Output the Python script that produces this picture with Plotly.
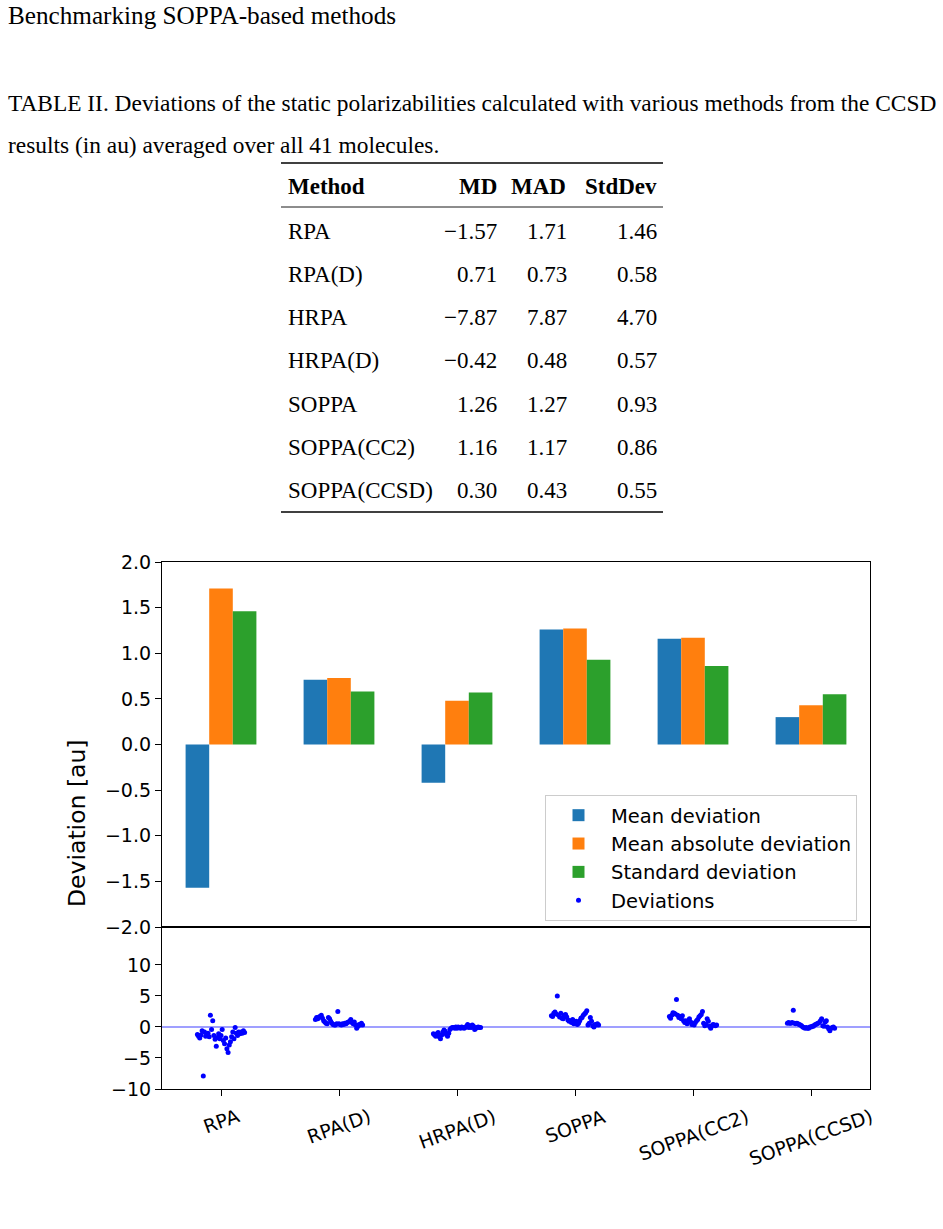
import numpy as np
import plotly.graph_objects as go

W, H = 943, 1229

# ---------------- data ----------------
table_methods = ["RPA", "RPA(D)", "HRPA", "HRPA(D)", "SOPPA", "SOPPA(CC2)", "SOPPA(CCSD)"]
table_md = [-1.57, 0.71, -7.87, -0.42, 1.26, 1.16, 0.30]
table_mad = [1.71, 0.73, 7.87, 0.48, 1.27, 1.17, 0.43]
table_std = [1.46, 0.58, 4.70, 0.57, 0.93, 0.86, 0.55]

chart_methods = ["RPA", "RPA(D)", "HRPA(D)", "SOPPA", "SOPPA(CC2)", "SOPPA(CCSD)"]

dev_rpa = [-1.2, -1.5, -1.8, -1.3, -0.6, -7.9, -0.8, -1.5, -1.2, -1.0,
           -1.6, 1.9, -0.4, 1.0, -1.4, -2.0, -3.1, -1.7, -1.1, -1.9,
           -1.4, -0.4, -2.2, -2.7, -1.8, -3.5, -4.1, -2.9, -2.4, -1.6,
           -0.8, -1.9, -0.1, -1.0, -1.4, -0.8, -1.1, -0.8, -1.0, -0.6, -0.9]
dev_rpad = [1.2, 1.5, 1.3, 1.6, 1.7, 1.9, 1.4, 1.0, 0.8, 0.6,
            0.5, 1.5, 1.3, 0.9, 0.6, 0.4, 0.3, 0.3, 0.5, 2.5,
            0.5, 0.4, 0.3, 0.5, 0.4, 0.6, 0.5, 0.7, 0.8, 0.9,
            1.2, 0.7, 0.5, 0.8, 0.3, -0.2, 0.1, 0.4, 0.3, 0.6, 0.3]
dev_hrpad = [-1.1, -1.3, -1.5, -1.1, -0.9, -1.6, -1.9, -1.3, -0.8, -0.5,
             -0.7, -1.2, -1.5, -1.0, -0.4, -0.2, -0.1, -0.1, -0.2, 0.0,
             -0.2, 0.0, -0.1, -0.2, 0.0, -0.1, -0.2, -0.1, 0.1, 0.4,
             -0.1, 0.2, -0.1, 0.3, 0.1, -0.4, -0.2, -0.1, 0.0, -0.1, -0.1]
dev_soppa = [1.8, 1.7, 2.2, 2.4, 2.1, 5.0, 1.9, 1.6, 2.2, 1.4,
             1.3, 1.9, 2.0, 1.6, 1.1, 0.9, 1.0, 0.7, 1.2, 0.5,
             0.8, 0.9, 0.4, 0.6, 1.0, 1.4, 1.5, 1.9, 2.1, 2.3,
             2.6, 0.3, 0.6, 1.5, 0.9, 0.2, 0.0, 0.4, 0.3, 0.5, 0.3]
dev_soppa_cc2 = [1.7, 1.4, 1.9, 2.3, 2.2, 2.1, 4.4, 1.9, 1.5, 1.7,
                 1.3, 1.8, 1.0, 0.7, 1.0, 0.5, 0.9, 1.3, 0.8, 0.4,
                 0.6, 0.3, 0.7, 1.0, 1.2, 1.6, 1.8, 2.0, 2.5, 0.6,
                 0.2, 0.4, 1.3, 0.9, 0.1, -0.2, 0.2, 0.4, 0.3, 0.2, 0.3]
dev_soppa_ccsd = [0.6, 0.7, 0.6, 0.6, 0.7, 2.7, 0.6, 0.5, 0.6, 0.5,
                  0.4, 0.3, 0.2, 0.0, -0.1, -0.2, -0.1, -0.2, -0.2, 0.0,
                  0.0, 0.1, 0.1, 0.3, 0.4, 0.5, 0.6, 0.7, 1.0, 1.3,
                  0.2, 0.1, 0.8, 1.0, 0.0, -0.3, -0.6, -0.2, -0.1, 0.0, -0.2]
deviations = [dev_rpa, dev_rpad, dev_hrpad, dev_soppa, dev_soppa_cc2, dev_soppa_ccsd]

top_ticks = [-2.0, -1.5, -1.0, -0.5, 0.0, 0.5, 1.0, 1.5, 2.0]
bottom_ticks = [-10, -5, 0, 5, 10]

# ---------------- helpers ----------------
def fx(px):
    return px / W

def fy(py):
    return 1 - py / H

def fmt(v):
    return f"{v:.2f}".replace("-", "\u2212")

SERIF = "Liberation Serif"
SANS = "DejaVu Sans"

idx = [table_methods.index(m) for m in chart_methods]
xpos = list(range(len(chart_methods)))
md_c = [table_md[i] for i in idx]
mad_c = [table_mad[i] for i in idx]
std_c = [table_std[i] for i in idx]

fig = go.Figure()
for name, vals, col in [("Mean deviation", md_c, "#1f77b4"),
                        ("Mean absolute deviation", mad_c, "#ff7f0e"),
                        ("Standard deviation", std_c, "#2ca02c")]:
    fig.add_trace(go.Bar(x=xpos, y=vals, name=name, marker_color=col,
                         marker_line_width=0, xaxis="x", yaxis="y"))

offs = np.linspace(-0.2, 0.2, len(dev_rpa))
sx, sy = [], []
for j, d in enumerate(deviations):
    sx += list(j + offs)
    sy += d
fig.add_trace(go.Scatter(x=sx, y=sy, mode="markers", name="Deviations",
                         marker=dict(color="#0000ff", size=5),
                         xaxis="x2", yaxis="y2"))

line_common = dict(showline=True, mirror=True, linecolor="black", linewidth=1.2,
                   showgrid=False, zeroline=False, automargin=False,
                   tickcolor="black", ticklen=6, tickwidth=1.2)
tickfont = dict(family=SANS, size=19, color="black")
xdom = [fx(162), fx(870)]
fig.update_layout(
    width=W, height=H, autosize=False,
    margin=dict(l=0, r=0, t=0, b=0, autoexpand=False),
    paper_bgcolor="white", plot_bgcolor="rgba(0,0,0,0)",
    barmode="group", bargap=0.4, bargroupgap=0,
    font=dict(family=SANS, color="black"),
    xaxis=dict(domain=xdom, anchor="y", range=[-0.5, 5.5], showticklabels=False,
               ticks="", **line_common),
    yaxis=dict(domain=[fy(927), fy(562)], anchor="x", range=[-2, 2],
               tickvals=top_ticks, tickformat=".1f", ticks="outside",
               tickfont=tickfont, **line_common),
    xaxis2=dict(domain=xdom, anchor="y2", range=[-0.5, 5.5], matches="x",
                tickvals=xpos, showticklabels=False, ticks="outside", **line_common),
    yaxis2=dict(domain=[fy(1089), fy(927)], anchor="x2", range=[-10, 16.1],
                tickvals=bottom_ticks, ticks="outside", tickfont=tickfont, **line_common),
    legend=dict(x=fx(545), y=fy(795), xanchor="left", yanchor="top",
                bgcolor="rgba(255,255,255,0.8)", bordercolor="#cccccc", borderwidth=1,
                font=dict(family=SANS, size=19.5, color="black"),
                itemwidth=55, tracegroupgap=0),
    showlegend=True,
)

# zero line in bottom panel
fig.add_shape(type="line", xref="x2 domain", yref="y2", x0=0, x1=1, y0=0, y1=0,
              line=dict(color="rgba(0,0,255,0.5)", width=1.6), layer="below")

ann = []
# x tick labels (rotated, centred like matplotlib)
for i, m in enumerate(chart_methods):
    ann.append(dict(x=i, xref="x2", y=fy(1102), yref="paper", text=m, showarrow=False,
                    textangle=-20, xanchor="center", yanchor="top",
                    font=dict(family=SANS, size=19, color="black")))
# figure y label
ann.append(dict(x=fx(77), y=fy(823), xref="paper", yref="paper", text="Deviation [au]",
                showarrow=False, textangle=-90, xanchor="center", yanchor="middle",
                font=dict(family=SANS, size=23.5, color="black")))

# page text
ann.append(dict(x=fx(6), y=fy(16), xref="paper", yref="paper",
                text="Benchmarking SOPPA-based methods", showarrow=False,
                xanchor="left", yanchor="middle", font=dict(family=SERIF, size=25.2, color="black")))
ann.append(dict(x=fx(6), y=fy(103), xref="paper", yref="paper",
                text="TABLE II. Deviations of the static polarizabilities calculated with various methods from the CCSD",
                showarrow=False, xanchor="left", yanchor="middle",
                font=dict(family=SERIF, size=23.4, color="black")))
ann.append(dict(x=fx(6), y=fy(145), xref="paper", yref="paper",
                text="results (in au) averaged over all 41 molecules.",
                showarrow=False, xanchor="left", yanchor="middle",
                font=dict(family=SERIF, size=23.4, color="black")))

# table
tfont = dict(family=SERIF, size=23, color="black")
ann.append(dict(x=fx(286), y=fy(187), xref="paper", yref="paper", text="<b>Method</b>",
                showarrow=False, xanchor="left", yanchor="middle", font=tfont))
for txt, xr in [("MD", 499), ("MAD", 568), ("StdDev", 659)]:
    ann.append(dict(x=fx(xr), y=fy(187), xref="paper", yref="paper", text=f"<b>{txt}</b>",
                    showarrow=False, xanchor="right", yanchor="middle", font=tfont))
row_y0, row_dy = 231, 43.3
for r, m in enumerate(table_methods):
    yy = fy(row_y0 + r * row_dy)
    ann.append(dict(x=fx(286), y=yy, xref="paper", yref="paper", text=m,
                    showarrow=False, xanchor="left", yanchor="middle", font=tfont))
    for vals, xr in [(table_md, 499), (table_mad, 569), (table_std, 659)]:
        ann.append(dict(x=fx(xr), y=yy, xref="paper", yref="paper", text=fmt(vals[r]),
                        showarrow=False, xanchor="right", yanchor="middle", font=tfont))
fig.update_layout(annotations=ann)

for py, lw in [(163, 1.3), (207, 0.9), (512, 1.3)]:
    fig.add_shape(type="line", xref="paper", yref="paper", x0=fx(281), x1=fx(663),
                  y0=fy(py), y1=fy(py), line=dict(color="black", width=lw))

fig.write_html("out.html")
